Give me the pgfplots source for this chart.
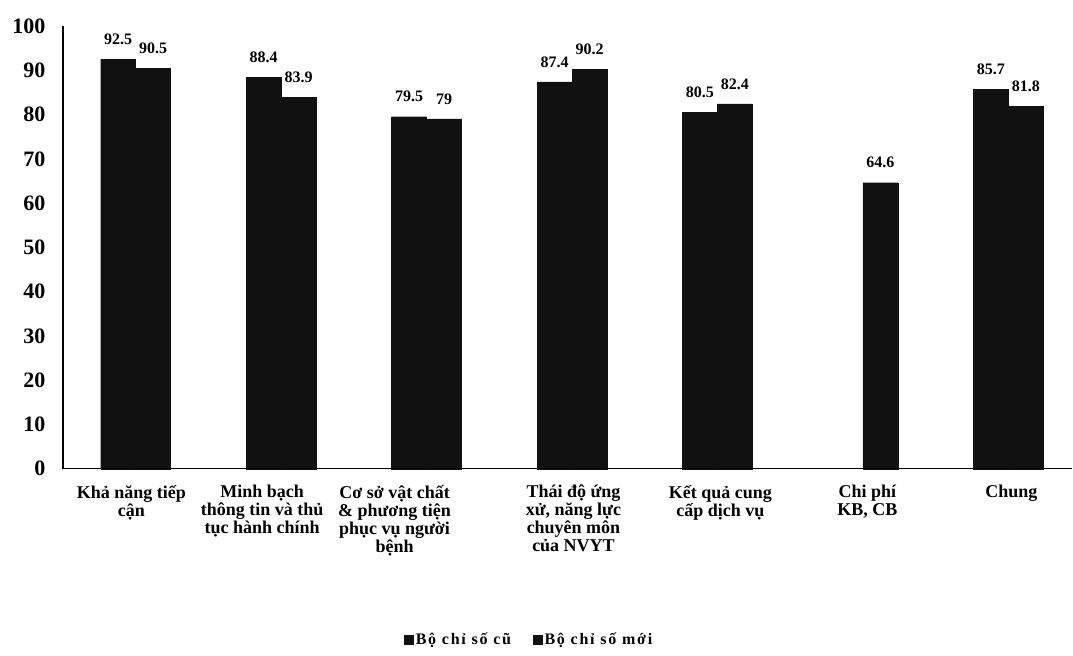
\documentclass[border=0pt]{standalone}
\usepackage{pgfplots}
\pgfplotsset{compat=1.18}
\usepackage{fontspec}
\setmainfont{Liberation Serif}
\newfontfamily\spacedfont[LetterSpace=11]{Liberation Serif}
\definecolor{barblack}{HTML}{111111}
\begin{document}
\begin{tikzpicture}
\begin{axis}[
  scale only axis,
  width=1010pt, height=443pt,
  ybar=0pt,
  bar width=35pt,
  xmin=-0.5, xmax=6.44,
  ymin=0, ymax=100,
  ytick={0,10,...,100},
  xtick={-0.03,0.87,1.78,3.01,4.02,5.03,6.02},
  xticklabels={
    {Khả năng tiếp\\cận},
    {Minh bạch\\thông tin và thủ\\tục hành chính},
    {Cơ sở vật chất\\\& phương tiện\\phục vụ người\\bệnh},
    {Thái độ ứng\\xử, năng lực\\chuyên môn\\của NVYT},
    {Kết quả cung\\cấp dịch vụ},
    {Chi phí\\KB, CB},
    {Chung}},
  xticklabel style={align=center, font=\fontsize{18}{18}\selectfont\bfseries, anchor=north, yshift=-13pt},
  yticklabel style={font=\fontsize{22}{24}\selectfont\bfseries, xshift=-14pt},
  /pgf/number format/assume math mode=true,
  axis x line*=bottom,
  axis y line*=left,
  x axis line style={-, line width=1.3pt},
  y axis line style={-, line width=1.3pt},
  major tick length=0pt,
  clip=false,
  nodes near coords,
  every node near coord/.append style={font=\fontsize{16}{18}\selectfont\bfseries, yshift=11pt},
  legend style={at={(0.462,-0.386)}, anchor=center, draw=none, fill=none,
    legend columns=2, font=\fontsize{16}{18}\selectfont\bfseries\spacedfont,
    /tikz/every even column/.append style={column sep=20pt}},
  legend image code/.code={\fill[barblack] (0pt,-4.5pt) rectangle (9pt,4.5pt);},
]
\addplot[fill=barblack, draw=barblack] coordinates {(0,92.5) (1,88.4) (2,79.5) (3,87.4) (4,80.5) (6,85.7)};
\addplot[fill=barblack, draw=barblack] coordinates {(0,90.5) (1,83.9) (2,79) (3,90.2) (4,82.4) (5,64.6) (6,81.8)};
\legend{Bộ chỉ số cũ, Bộ chỉ số mới}
\end{axis}
\path (current axis.south west) ++(-63pt,-187pt) rectangle ++(1073pt,656pt);
\end{tikzpicture}
\end{document}
